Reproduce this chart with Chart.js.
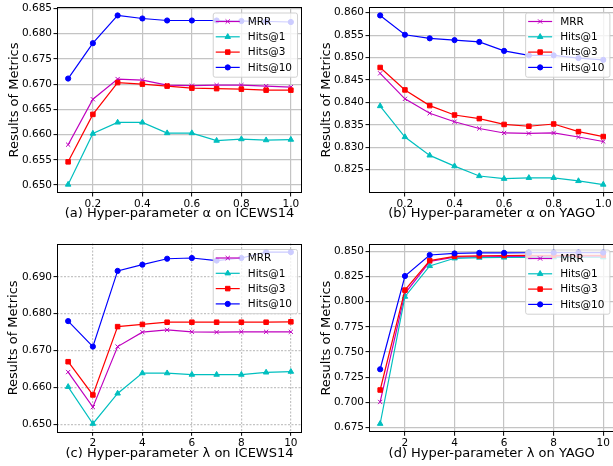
<!DOCTYPE html>
<html>
<head>
<meta charset="utf-8">
<script src="https://cdn.jsdelivr.net/npm/chart.js@4.4.1/dist/chart.umd.min.js"></script>
<style>
  body { margin: 0; background: #fff; width: 613px; height: 466px; overflow: hidden; position: relative; }
  canvas { position: absolute; }
</style>
</head>
<body>
<canvas id="chartA" width="310" height="230" style="left:0;top:0"></canvas>
<canvas id="chartB" width="310" height="230" style="left:310px;top:0"></canvas>
<canvas id="chartC" width="310" height="233" style="left:0;top:233px"></canvas>
<canvas id="chartD" width="310" height="233" style="left:310px;top:233px"></canvas>
<script>
const seriesNames = ["MRR", "Hits@1", "Hits@3", "Hits@10"];
const alphaValues = [0.1, 0.2, 0.3, 0.4, 0.5, 0.6, 0.7, 0.8, 0.9, 1.0];
const lambdaValues = [1, 2, 3, 4, 5, 6, 7, 8, 9, 10];

// (a) alpha on ICEWS14
const mrrA = [0.6580, 0.6670, 0.6710, 0.6708, 0.6698, 0.6697, 0.6698, 0.6698, 0.6696, 0.6694];
const hits1A = [0.6501, 0.6602, 0.6624, 0.6624, 0.6603, 0.6603, 0.6588, 0.6591, 0.6589, 0.6590];
const hits3A = [0.6546, 0.6640, 0.6703, 0.6700, 0.6696, 0.6692, 0.6691, 0.6690, 0.6688, 0.6688];
const hits10A = [0.6711, 0.6781, 0.6836, 0.6830, 0.6826, 0.6826, 0.6826, 0.6825, 0.6824, 0.6823];

// (b) alpha on YAGO
const mrrB = [0.8465, 0.8408, 0.8376, 0.8357, 0.8342, 0.8332, 0.8331, 0.8332, 0.8323, 0.8313];
const hits1B = [0.8392, 0.8323, 0.8282, 0.8258, 0.8236, 0.8230, 0.8232, 0.8232, 0.8225, 0.8217];
const hits3B = [0.8478, 0.8428, 0.8393, 0.8372, 0.8364, 0.8351, 0.8347, 0.8352, 0.8335, 0.8324];
const hits10B = [0.8594, 0.8551, 0.8543, 0.8539, 0.8535, 0.8515, 0.8505, 0.8505, 0.8499, 0.8495];

// (c) lambda on ICEWS14
const mrrC = [0.6642, 0.6547, 0.6711, 0.6750, 0.6756, 0.6751, 0.6750, 0.6751, 0.6751, 0.6751];
const hits1C = [0.6602, 0.6502, 0.6584, 0.6639, 0.6639, 0.6635, 0.6635, 0.6635, 0.6641, 0.6643];
const hits3C = [0.6670, 0.6580, 0.6765, 0.6771, 0.6777, 0.6777, 0.6777, 0.6777, 0.6777, 0.6778];
const hits10C = [0.6780, 0.6711, 0.6916, 0.6933, 0.6949, 0.6951, 0.6944, 0.6951, 0.6967, 0.6967];

// (d) lambda on YAGO
const mrrD = [0.7003, 0.8080, 0.8398, 0.8441, 0.8444, 0.8447, 0.8447, 0.8447, 0.8447, 0.8447];
const hits1D = [0.6787, 0.8049, 0.8354, 0.8430, 0.8437, 0.8438, 0.8440, 0.8440, 0.8440, 0.8440];
const hits3D = [0.7122, 0.8114, 0.8407, 0.8450, 0.8454, 0.8458, 0.8460, 0.8460, 0.8460, 0.8460];
const hits10D = [0.7328, 0.8254, 0.8463, 0.8478, 0.8484, 0.8484, 0.8485, 0.8487, 0.8487, 0.8487];

const alphaTicks = [0.2, 0.4, 0.6, 0.8, 1.0];
const lambdaTicks = [2, 4, 6, 8, 10];
const yTicksA = [0.650, 0.655, 0.660, 0.665, 0.670, 0.675, 0.680, 0.685];
const yTicksB = [0.825, 0.830, 0.835, 0.840, 0.845, 0.850, 0.855, 0.860];
const yTicksC = [0.650, 0.660, 0.670, 0.680, 0.690];
const yTicksD = [0.675, 0.700, 0.725, 0.750, 0.775, 0.800, 0.825, 0.850];

const FONT = "'DejaVu Sans', sans-serif";
const styles = [
  { color: "#bf00bf", pointStyle: "crossRot", pointRadius: 3 },
  { color: "#00bfbf", pointStyle: "triangle", pointRadius: 3.2 },
  { color: "#ff0000", pointStyle: "rect", pointRadius: 3.2 },
  { color: "#0000ff", pointStyle: "circle", pointRadius: 2.6 },
];

// matplotlib-like 5% margins
function padRange(vals) {
  const lo = Math.min(...vals), hi = Math.max(...vals), m = (hi - lo) * 0.05;
  return [lo - m, hi + m];
}

// frame around plot + legend inside upper right
const frameLegend = {
  id: "frameLegend",
  afterDatasetsDraw(chart) {
    const { ctx, chartArea: a } = chart;
    ctx.save();
    ctx.strokeStyle = "#000";
    ctx.lineWidth = 1;
    ctx.strokeRect(Math.round(a.left) + 0.5, Math.round(a.top) + 0.5,
      Math.round(a.right - a.left) - 1, Math.round(a.bottom - a.top) - 1);

    const fs = 10.5, rowH = 15.3;
    ctx.font = fs + "px " + FONT;
    const sets = chart.data.datasets;
    const tw = Math.max(...sets.map(d => ctx.measureText(d.label).width));
    const w = 3 + 24 + 8 + tw + 5, h = sets.length * rowH + 3;
    const x0 = a.right - 5 - w, y0 = a.top + 5.5;
    ctx.fillStyle = "rgba(255,255,255,0.8)";
    ctx.strokeStyle = "rgba(204,204,204,0.9)";
    ctx.beginPath();
    ctx.roundRect(x0 + 0.5, y0 + 0.5, w, h, 2);
    ctx.fill();
    ctx.stroke();
    sets.forEach((d, i) => {
      const cy = y0 + 9 + i * rowH;
      ctx.strokeStyle = d.borderColor;
      ctx.fillStyle = d.backgroundColor;
      ctx.lineWidth = 1.2;
      ctx.beginPath();
      ctx.moveTo(x0 + 3, cy);
      ctx.lineTo(x0 + 27, cy);
      ctx.stroke();
      ctx.lineWidth = 1;
      Chart.helpers.drawPoint(ctx, { pointStyle: d.pointStyle, radius: d.pointRadius, borderWidth: 1, rotation: 0 }, x0 + 15, cy);
      ctx.fillStyle = "#000";
      ctx.textBaseline = "middle";
      ctx.textAlign = "left";
      ctx.fillText(d.label, x0 + 35, cy + 0.5);
    });
    ctx.restore();
  },
};

function makeChart(id, cfg) {
  const canvas = document.getElementById(id);
  const W = canvas.width, H = canvas.height;
  const [l, t, r, b] = cfg.area;
  const xr = padRange(cfg.x);
  const yr = padRange(cfg.series.flat());
  const gridColor = "#c4c4c4";
  return new Chart(canvas, {
    type: "line",
    data: {
      datasets: cfg.series.map((s, i) => ({
        label: seriesNames[i],
        data: cfg.x.map((x, j) => ({ x: x, y: s[j] })),
        borderColor: styles[i].color,
        backgroundColor: styles[i].color,
        pointBackgroundColor: styles[i].color,
        pointBorderColor: styles[i].color,
        pointStyle: styles[i].pointStyle,
        pointRadius: styles[i].pointRadius,
        pointBorderWidth: 1,
        borderWidth: 1.2,
        tension: 0,
        order: 4 - i,
      })),
    },
    options: {
      responsive: false,
      animation: false,
      events: [],
      layout: { padding: { left: 0, top: t, right: W - r, bottom: 0 } },
      plugins: { legend: { display: false }, tooltip: { enabled: false } },
      scales: {
        x: {
          type: "linear",
          min: xr[0],
          max: xr[1],
          afterBuildTicks: s => { s.ticks = cfg.xTicks.map(v => ({ value: v })); },
          afterFit: s => { s.height = H - b; s.paddingLeft = 0; s.paddingRight = 0; },
          grid: { color: gridColor, lineWidth: 1.2, tickColor: "#000", tickLength: 3.5, tickWidth: 1, tickBorderDash: [] },
          border: { display: false, dash: cfg.dash },
          ticks: {
            autoSkip: false, maxRotation: 0, padding: 1, color: "#000",
            font: { family: FONT, size: 10.5 },
            callback: v => v.toFixed(cfg.xDec),
          },
          title: {
            display: true, text: cfg.xTitle, color: "#000",
            font: { family: FONT, size: 13 },
            padding: { top: 0, bottom: cfg.titleOff - 7.8 },
          },
        },
        y: {
          type: "linear",
          min: yr[0],
          max: yr[1],
          afterBuildTicks: s => { s.ticks = cfg.yTicks.map(v => ({ value: v })); },
          afterFit: s => { s.width = l; s.paddingTop = 0; s.paddingBottom = 0; },
          grid: { color: gridColor, lineWidth: 1.2, tickColor: "#000", tickLength: 3.5, tickWidth: 1, tickBorderDash: [] },
          border: { display: false, dash: cfg.dash },
          ticks: {
            autoSkip: false, padding: 1.5, color: "#000",
            font: { family: FONT, size: 10.5 },
            callback: v => v.toFixed(3),
          },
          title: {
            display: true, text: "Results of Metrics", color: "#000",
            font: { family: FONT, size: 13 },
            padding: { top: cfg.yTitleOff - 7.8, bottom: 0 },
          },
        },
      },
    },
    plugins: [frameLegend],
  });
}

makeChart("chartA", {
  x: alphaValues, xTicks: alphaTicks, xDec: 1, yTicks: yTicksA,
  series: [mrrA, hits1A, hits3A, hits10A],
  area: [57, 7, 302, 193], titleOff: 16, yTitleOff: 15, dash: [],
  xTitle: "(a) Hyper-parameter α on ICEWS14",
});
makeChart("chartB", {
  x: alphaValues, xTicks: alphaTicks, xDec: 1, yTicks: yTicksB,
  series: [mrrB, hits1B, hits3B, hits10B],
  area: [59, 7, 304.4, 193], titleOff: 16.5, yTitleOff: 16.7, dash: [],
  xTitle: "(b) Hyper-parameter α on YAGO",
});
makeChart("chartC", {
  x: lambdaValues, xTicks: lambdaTicks, xDec: 0, yTicks: yTicksC,
  series: [mrrC, hits1C, hits3C, hits10C],
  area: [57, 10.5, 302, 199.3], titleOff: 12.7, yTitleOff: 14, dash: [2, 1.5],
  xTitle: "(c) Hyper-parameter λ on ICEWS14",
});
makeChart("chartD", {
  x: lambdaValues, xTicks: lambdaTicks, xDec: 0, yTicks: yTicksD,
  series: [mrrD, hits1D, hits3D, hits10D],
  area: [59, 11, 304.4, 199.3], titleOff: 12.7, yTitleOff: 16.7, dash: [],
  xTitle: "(d) Hyper-parameter λ on YAGO",
});
</script>
</body>
</html>
